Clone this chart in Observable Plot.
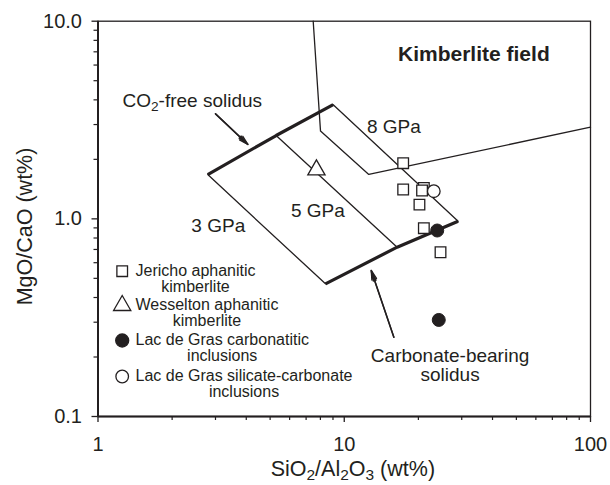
<!DOCTYPE html>
<html><head><meta charset="utf-8">
<script src="https://cdn.jsdelivr.net/npm/d3@7"></script>
<script src="https://cdn.jsdelivr.net/npm/@observablehq/plot@0.6"></script>
<style>body{margin:0;background:#fff}</style>
</head><body><div id="chart"></div>
<script>
// ---------- data ----------
const xMajor = [1, 10, 100];
const xTickLabels = ["1", "10", "100"];
const xMinor = [2,3,4,5,6,7,8,9,20,30,40,50,60,70,80,90];
const yMajor = [0.1, 1, 10];
const yTickLabels = ["0.1", "1.0", "10.0"];
const yMinor = [0.2,0.3,0.4,0.5,0.6,0.7,0.8,0.9,2,3,4,5,6,7,8,9];

const co2FreeSolidus   = [{x:2.79,y:1.675},{x:5.29,y:2.64},{x:9.02,y:3.78}];
const carbonateSolidus = [{x:8.39,y:0.469},{x:16.4,y:0.719},{x:29.0,y:0.973}];
const isobar3 = [{x:2.79,y:1.675},{x:8.39,y:0.469}];
const isobar5 = [{x:5.29,y:2.64},{x:16.4,y:0.719}];
const isobar8 = [{x:9.02,y:3.78},{x:29.0,y:0.973}];
const kimberliteBoundary = [{x:7.48,y:10},{x:8.01,y:2.78},{x:12.58,y:1.677},{x:100,y:2.91}];

const jericho = [
  {x:17.35,y:1.913},{x:17.35,y:1.408},{x:21.05,y:1.435},{x:20.7,y:1.391},
  {x:20.2,y:1.18},{x:21.05,y:0.897},{x:24.6,y:0.678}
];
const wesselton = [{x:7.71,y:1.77}];
const lacCarbonatitic = [{x:23.85,y:0.873},{x:24.2,y:0.308}];
const lacSilicateCarbonate = [{x:23.1,y:1.38}];

const arrows = [
  {x1:3.00,y1:3.40,x2:4.06,y2:2.38},
  {x1:15.9,y1:0.252,x2:12.87,y2:0.548}
];

const labels = [
  {x:2.415,y:3.97,text:"CO2-free solidus"},
  {x:15.9,y:2.91,text:"8 GPa"},
  {x:7.81,y:1.093,text:"5 GPa"},
  {x:3.08,y:0.925,text:"3 GPa"},
  {x:26.9,y:0.182,text:"Carbonate-bearing\nsolidus"}
];
const fieldLabel = [{x:33.6,y:6.84,text:"Kimberlite field"}];

const legendLabels = [
  "Jericho aphanitic\nkimberlite",
  "Wesselton aphanitic\nkimberlite",
  "Lac de Gras carbonatitic\ninclusions",
  "Lac de Gras silicate-carbonate\ninclusions"
];
const xTitle = "SiO2/Al2O3 (wt%)";
const yTitle = "MgO/CaO (wt%)";

// ---------- styles ----------
const ink = "#231f20";
const font = "'Liberation Sans', Arial, Helvetica, sans-serif";
const symbolStyles = [
  {symbol:"square", r:6.0, fill:"white"},
  {symbol:"triangle", r:6.4, fill:"white"},
  {symbol:"circle", r:6.5, fill:ink},
  {symbol:"circle", r:6.3, fill:"white"}
];

const ctx = document.createElement("canvas").getContext("2d");
function textWidth(s, size, weight = "normal") {
  ctx.font = `${weight} ${size}px ${font}`;
  return ctx.measureText(s).width;
}

const mL = 97.5, mR = 20, mT = 20.7, mB = 69;
const legendFont = 16, legendGap = 15.5;
const legendRows = [250, 284.3, 319.3, 355.3];

const legendMarks = legendLabels.flatMap((lab, i) => {
  const st = symbolStyles[i];
  const first = lab.split("\n")[0];
  const w = textWidth(first, legendFont);
  return [
    Plot.dot([lab], {frameAnchor:"top-left", dx:24.2, dy:legendRows[i], symbol:st.symbol, r:st.r, fill:st.fill, stroke:ink, strokeWidth:1.3}),
    Plot.text([lab], {frameAnchor:"top-left", dx:37.5 + w/2, dy:legendRows[i] + legendGap/2, textAnchor:"middle", lineAnchor:"middle", fontSize:legendFont, lineHeight:legendGap/legendFont, fill:ink})
  ];
});

const thin = {x:"x", y:"y", stroke:ink, strokeWidth:1.3};
const thick = {x:"x", y:"y", stroke:ink, strokeWidth:3.2, strokeLinecap:"butt"};

const plot = Plot.plot({
  width: 610, height: 485,
  marginLeft: mL, marginRight: mR, marginTop: mT, marginBottom: mB,
  x: {type:"log", domain:[1,100]},
  y: {type:"log", domain:[0.1,10]},
  style: {fontFamily: font, background:"white", color: ink, overflow:"visible"},
  marks: [
    Plot.frame({stroke: ink, strokeWidth: 1.3}),
    Plot.ruleX([1], {stroke: ink, strokeWidth: 2}),
    Plot.ruleY([0.1], {stroke: ink, strokeWidth: 2}),
    Plot.axisX(xMinor, {tickSize:4, tickFormat: () => "", stroke: ink, strokeWidth:1.2, label:null}),
    Plot.axisX(xMajor, {tickSize:6, tickPadding:14, tickFormat: d => xTickLabels[xMajor.indexOf(d)], fontSize:20, stroke: ink, strokeWidth:1.3, fill: ink, label:null}),
    Plot.axisY(yMinor, {tickSize:4, tickFormat: () => "", stroke: ink, strokeWidth:1.2, label:null}),
    Plot.axisY(yMajor, {tickSize:6, tickPadding:10, tickFormat: d => yTickLabels[yMajor.indexOf(d)], fontSize:20, stroke: ink, strokeWidth:1.3, fill: ink, label:null}),
    Plot.line(kimberliteBoundary, thin),
    Plot.line(isobar3, thin),
    Plot.line(isobar5, thin),
    Plot.line(isobar8, thin),
    Plot.line(co2FreeSolidus, thick),
    Plot.line(carbonateSolidus, thick),
    Plot.arrow(arrows, {x1:"x1", y1:"y1", x2:"x2", y2:"y2", stroke: ink, strokeWidth:1.3, headLength:11, headAngle:30}),
    Plot.arrow(arrows, {x1:"x1", y1:"y1", x2:"x2", y2:"y2", stroke: ink, strokeWidth:1.6, headLength:10, headAngle:15}),
    Plot.dot(jericho, {x:"x", y:"y", symbol:"square", r:symbolStyles[0].r, fill:"white", stroke: ink, strokeWidth:1.3}),
    Plot.dot(wesselton, {x:"x", y:"y", symbol:"triangle", r:symbolStyles[1].r, fill:"white", stroke: ink, strokeWidth:1.3}),
    Plot.dot(lacSilicateCarbonate, {x:"x", y:"y", symbol:"circle", r:symbolStyles[3].r, fill:"white", stroke: ink, strokeWidth:1.3}),
    Plot.dot(lacCarbonatitic, {x:"x", y:"y", symbol:"circle", r:symbolStyles[2].r, fill: ink, stroke: ink, strokeWidth:1}),
    Plot.text(labels, {x:"x", y:"y", text:"text", fontSize:19, lineHeight:1.03, fill: ink}),
    Plot.text(fieldLabel, {x:"x", y:"y", text:"text", fontSize:21, fontWeight:"bold", fill: ink}),
    ...legendMarks,
    Plot.text([xTitle], {frameAnchor:"bottom", dx:8.6, dy:53, textAnchor:"middle", lineAnchor:"middle", fontSize:21.5, fill: ink}),
    Plot.text([yTitle], {frameAnchor:"left", dx:-72.5, dy:7.6, rotate:-90, textAnchor:"middle", lineAnchor:"middle", fontSize:21.5, fill: ink})
  ]
});

// subscripts
const svgNS = "http://www.w3.org/2000/svg";
function subscriptify(t, parts, shift) {
  while (t.firstChild) t.removeChild(t.firstChild);
  let down = false;
  for (const [s, sub] of parts) {
    const ts = document.createElementNS(svgNS, "tspan");
    ts.textContent = s;
    if (sub) { ts.setAttribute("font-size", "72%"); ts.setAttribute("dy", shift); down = true; }
    else if (down) { ts.setAttribute("dy", -shift); down = false; }
    t.appendChild(ts);
  }
}
plot.querySelectorAll("text").forEach(t => {
  if (t.textContent === xTitle) subscriptify(t, [["SiO"],["2",1],["/Al"],["2",1],["O"],["3",1],[" (wt%)"]], 4);
  else if (t.textContent === "CO2-free solidus") subscriptify(t, [["CO"],["2",1],["-free solidus"]], 4.5);
});
document.getElementById("chart").appendChild(plot);
</script>
</body></html>
